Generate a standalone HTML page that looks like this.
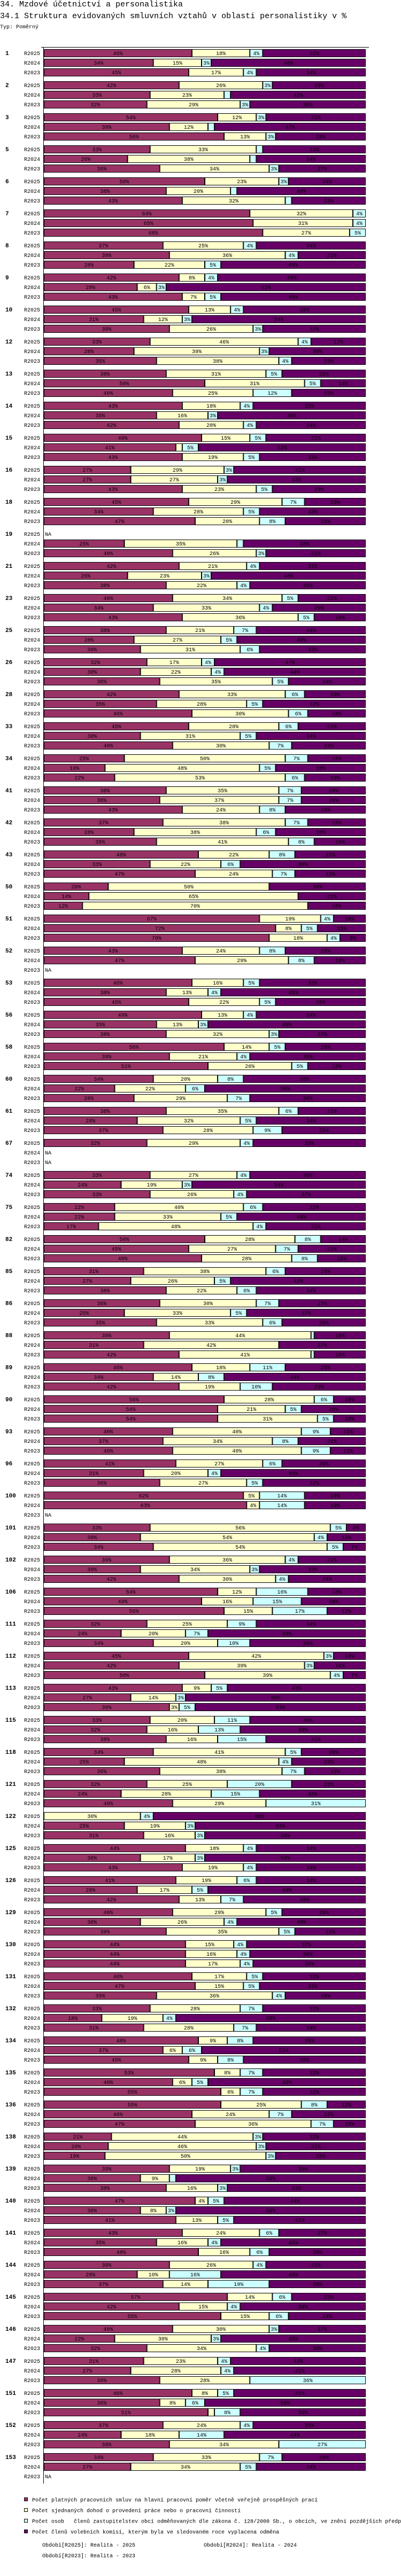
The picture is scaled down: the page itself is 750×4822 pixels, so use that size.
<!DOCTYPE html>
<html lang="cs">
<head>
<meta charset="utf-8">
<title>34.1 Struktura evidovaných smluvních vztahů</title>
<style>
  html,body{margin:0;padding:0;background:#fff;}
  body{width:750px;height:4822px;overflow:hidden;position:relative;font-family:"Liberation Mono","DejaVu Sans Mono",monospace;}
  .t1{position:absolute;left:0;font-size:15px;line-height:18px;color:#000;white-space:nowrap;}
  .t3{position:absolute;left:0;font-size:10px;line-height:12px;color:#000;white-space:nowrap;}
  svg{position:absolute;left:0;top:0;}
</style>
</head>
<body>
<div class="t1" style="top:0px">34. Mzdové účetnictví a personalistika</div>
<div class="t1" style="top:22px">34.1 Struktura evidovaných smluvních vztahů v oblasti personalistiky v %</div>
<div class="t3" style="top:46px">Typ: Poměrný</div>

<svg id="chart" width="750" height="4822" xmlns="http://www.w3.org/2000/svg"></svg>

<script>
const groupLabels = [1,2,3,5,6,7,8,9,10,12,13,14,15,16,18,19,21,23,25,26,28,33,34,41,42,43,50,51,52,53,56,58,60,61,67,74,75,82,85,86,88,89,90,93,96,100,101,102,106,111,112,113,115,118,121,122,125,126,129,130,131,132,134,135,136,138,139,140,141,144,145,146,147,151,152,153];
const periods = ["R2025","R2024","R2023"];
const seriesNames = [
  "Počet platných pracovních smluv na hlavní pracovní poměr včetně veřejně prospěšných prací",
  "Počet sjednaných dohod o provedení práce nebo o pracovní činnosti",
  "Počet osob   členů zastupitelstev obcí odměňovaných dle zákona č. 128/2000 Sb., o obcích, ve znění pozdějších předpisů",
  "Počet členů volebních komisí, kterým byla ve sledovaném roce vyplacena odměna"
];
const seriesColors = ["#993366","#FFFFCC","#CCFFFF","#660066"];

const data2025 = [
[46,18,4,32],[42,26,3,29],[54,12,3,31],[33,33,2,32],[50,23,3,24],[64,32,4,0],[37,25,4,34],[42,8,4,46],[45,13,4,38],
[33,46,4,17],[38,31,5,26],[43,18,4,35],[49,15,5,31],[27,29,3,41],[45,29,7,19],null,[42,21,4,33],
[40,34,5,21],[38,21,7,34],[32,17,4,47],[42,33,6,19],[45,28,6,21],[25,50,7,18],[38,35,7,20],[37,38,7,18],
[48,22,8,22],[20,50,0,30],[67,19,4,10],[43,24,8,25],[46,16,5,33],[49,13,4,34],[56,14,5,25],[34,20,8,38],[38,35,6,21],
[32,29,4,35],[33,27,4,36],[22,40,6,32],[50,28,8,14],[31,38,6,25],[36,30,7,27],[39,44,1,16],[46,18,11,25],
[56,28,6,10],[40,40,9,11],[41,27,6,26],[62,5,14,19],[33,56,5,6],[39,36,4,21],[54,12,16,18],[32,25,9,34],[45,42,3,10],
[43,9,5,43],[33,20,11,36],[34,41,5,20],[32,25,20,23],[0,30,4,66],[44,18,4,34],[41,19,6,34],[40,29,5,26],
[44,15,4,37],[46,17,5,32],[33,28,7,32],[48,9,8,35],[53,8,7,32],[55,25,8,12],[21,44,3,32],[39,19,3,39],[47,4,5,44],
[43,24,6,27],[39,26,4,31],[57,14,6,23],[40,30,3,27],[31,23,4,42],[46,8,5,41],[37,24,4,35],[34,33,7,26]
];
const data2024 = [
[34,15,3,48],[33,23,2,42],[39,12,2,47],[26,38,2,34],[38,20,2,40],[65,31,4,0],[39,36,4,21],[29,6,3,62],[31,12,3,54],
[28,39,3,30],[50,31,5,14],[35,16,3,46],[41,2,5,52],[27,27,3,43],[34,28,5,33],[25,35,2,38],[26,23,3,48],
[34,33,4,29],[28,27,5,40],[30,22,4,44],[35,28,5,32],[30,31,5,34],[19,48,5,28],[36,37,7,20],[28,38,6,28],
[33,22,6,39],[14,65,0,21],[72,8,5,15],[47,29,8,16],[38,13,4,45],[35,13,3,49],[39,21,4,36],[22,22,6,50],[29,32,5,34],
null,[24,19,3,54],[22,33,5,40],[45,27,7,21],[27,26,5,42],[25,33,5,37],[31,42,0,27],[34,14,8,44],
[54,21,5,20],[37,34,8,21],[31,20,4,45],[63,4,14,19],[30,54,4,12],[30,34,3,33],[49,16,15,20],[24,20,7,49],[42,39,3,16],
[27,14,3,56],[32,16,13,39],[25,48,4,23],[24,28,15,33],[25,19,3,53],[30,17,3,50],[29,17,5,49],[30,26,4,40],
[44,16,4,36],[47,15,5,33],[18,19,4,59],[37,6,6,51],[40,6,5,49],[46,24,7,23],[20,46,3,31],[30,9,2,59],[30,8,3,59],
[35,16,4,45],[29,10,16,45],[42,15,4,39],[22,30,3,45],[27,28,4,41],[36,8,6,50],[24,18,14,44],[27,34,5,34]
];
const data2023 = [
[45,17,4,34],[32,29,3,36],[56,13,3,28],[36,34,3,27],[43,32,2,23],[68,27,5,0],[28,22,5,45],[43,7,5,45],[39,26,3,32],
[35,38,4,23],[40,25,12,23],[42,20,4,34],[43,19,5,33],[43,23,5,29],[47,20,8,25],[40,26,3,31],[38,22,4,36],
[43,36,5,16],[30,31,6,33],[36,35,5,24],[46,30,6,18],[40,30,7,23],[22,53,6,19],[43,24,8,25],[35,41,8,16],
[47,24,7,22],[12,70,0,18],[70,18,4,8],null,[45,22,5,28],[38,32,3,27],[51,26,5,18],[28,29,7,36],[37,28,9,26],
null,[33,26,4,37],[17,48,4,31],[49,28,8,15],[38,22,6,34],[35,33,6,26],[42,41,1,16],[42,19,10,29],
[54,31,5,10],[40,40,9,11],[36,27,5,32],null,[34,54,5,7],[42,30,4,24],[56,15,17,12],[34,20,10,36],[50,39,4,7],
[39,3,5,53],[38,16,15,31],[36,38,7,19],[40,29,31,0],[31,16,3,50],[43,19,4,34],[42,13,7,38],[38,35,5,22],
[44,17,4,35],[35,36,4,25],[31,28,7,34],[45,9,8,38],[55,6,7,32],[47,36,7,10],[19,50,3,28],[38,16,3,43],[41,13,5,41],
[48,16,6,30],[37,14,19,30],[55,15,6,24],[32,34,4,30],[36,28,36,0],[51,2,8,39],[39,34,27,0],null
];
const periodLegend = ["Období[R2025]: Realita - 2025","Období[R2024]: Realita - 2024","Období[R2023]: Realita - 2023"];

const NS = "http://www.w3.org/2000/svg";
const svg = document.getElementById("chart");
const X0 = 82, X1 = 684, Y0 = 92, GROUP_H = 60, ROW_H = 18, BAR_H = 15;
function xScale(pct){ return (X1 - X0) * pct / 100; }
function rowY(g, r){ return Y0 + g * GROUP_H + r * ROW_H; }
function mk(tag, attrs){ const e = document.createElementNS(NS, tag); for (const k in attrs) e.setAttribute(k, attrs[k]); return e; }

// axes
const axisV = mk("line",{x1:81.5,y1:88,x2:81.5,y2:Y0 + groupLabels.length*GROUP_H - 3,stroke:"#000","stroke-width":1});


svg.appendChild(axisV);
const axisH = mk("line",{x1:77,y1:88.5,x2:690,y2:88.5,stroke:"#000","stroke-width":1});


svg.appendChild(axisH);

const allData = [data2025, data2024, data2023];
groupLabels.forEach((lab, g) => {
  const gl = mk("text",{x:10,y:rowY(g,0)+11,"font-size":11,"font-weight":"bold","font-family":"Liberation Mono, monospace"});
  gl.textContent = lab;
  
  
  svg.appendChild(gl);
  for (let r = 0; r < 3; r++) {
    const y = rowY(g, r);
    const pl = mk("text",{x:75,y:y+11,"font-size":10,"text-anchor":"end","font-family":"Liberation Mono, monospace"});
    pl.textContent = periods[r];
    
    
    svg.appendChild(pl);
    const vals = allData[r][g];
    if (!vals) {
      const na = mk("text",{x:84,y:y+11,"font-size":10,"font-family":"Liberation Mono, monospace"});
      na.textContent = "NA";
      
      
      svg.appendChild(na);
      continue;
    }
    const sum = vals.reduce((a,b)=>a+b,0);
    let cx = X0;
    vals.forEach((v, s) => {
      if (v <= 0) return;
      const w = xScale(v * 100 / sum);
      const rect = mk("rect",{x:cx+0.5,y:y+0.5,width:Math.max(w-1,0.5),height:BAR_H-1,fill:seriesColors[s],stroke:"#000","stroke-width":1});
      
      
      svg.appendChild(rect);
      if (w >= 13) {
        const t = mk("text",{x:cx+w/2,y:y+11,"font-size":10,"text-anchor":"middle","font-family":"Liberation Mono, monospace",fill:"#000"});
        t.textContent = v + "%";
        
        
        svg.appendChild(t);
      }
      cx += w;
    });
  }
});

// legend
const LY = 4679;
seriesNames.forEach((name, i) => {
  const sq = mk("rect",{x:45.5,y:LY + i*20 - 3.5,width:6,height:6,fill:seriesColors[i],stroke:"#000","stroke-width":1});
  
  
  svg.appendChild(sq);
  const lt = mk("text",{x:60,y:LY + i*20 + 3.5,"font-size":10,"font-family":"Liberation Mono, monospace","xml:space":"preserve"});
  lt.setAttribute("style","white-space:pre");
  lt.textContent = name;
  
  
  svg.appendChild(lt);
});
const periodPos = [[79,4767],[381,4767],[79,4787]];
periodLegend.forEach((p, i) => {
  const t = mk("text",{x:periodPos[i][0],y:periodPos[i][1],"font-size":10,"font-family":"Liberation Mono, monospace"});
  t.textContent = p;
  
  
  svg.appendChild(t);
});
</script>
</body>
</html>
